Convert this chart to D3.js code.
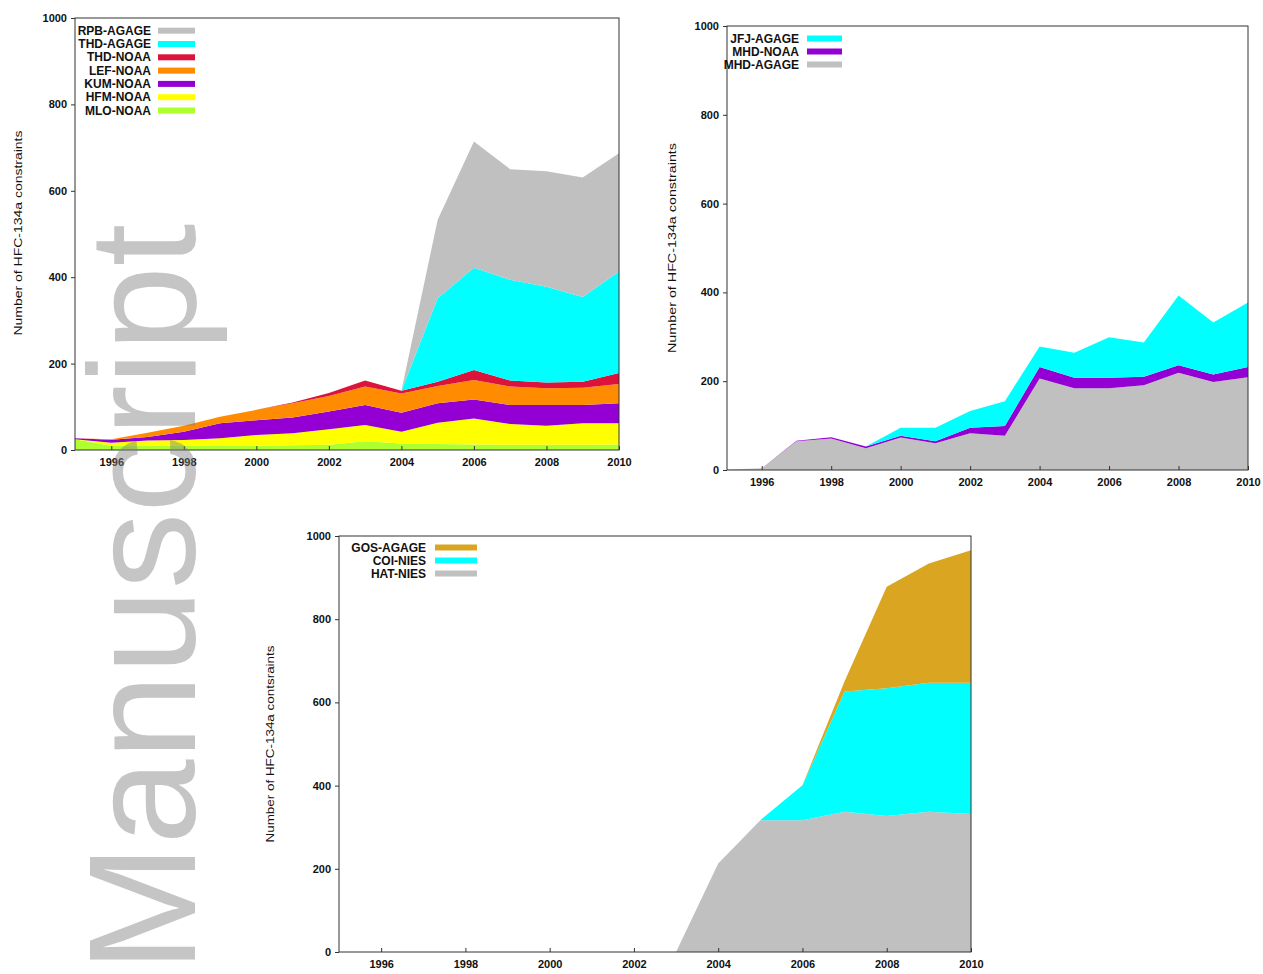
<!DOCTYPE html>
<html>
<head>
<meta charset="utf-8">
<script src="https://cdn.jsdelivr.net/npm/d3@7"></script>
<style>
  body { margin: 0; background: #fff; }
  svg { display: block; }
  text { font-family: "Liberation Sans", Arial, Helvetica, sans-serif; }
</style>
</head>
<body>
<svg id="fig" width="1263" height="974"></svg>
<script>
// ---- data -------------------------------------------------------------
const years = [1995, 1996, 1997, 1998, 1999, 2000, 2001, 2002, 2003, 2004, 2005, 2006, 2007, 2008, 2009, 2010];
const yTicks = [0, 200, 400, 600, 800, 1000];
const xTicks = [1996, 1998, 2000, 2002, 2004, 2006, 2008, 2010];

// North America / Pacific stations (stacked bottom to top)
const mloNoaa   = [25, 10, 10, 10,  9, 10, 11, 12, 20, 15, 14, 13, 12, 12, 12, 13];
const hfmNoaa   = [ 0,  7, 12, 13, 18, 25, 28, 36, 38, 27, 49, 60, 48, 44, 50, 49];
const kumNoaa   = [ 2,  7,  8, 19, 35, 34, 36, 41, 46, 44, 45, 44, 44, 48, 42, 46];
const lefNoaa   = [ 0,  1, 10, 14, 15, 24, 33, 36, 43, 45, 40, 45, 43, 39, 40, 45];
const thdNoaa   = [ 0,  0,  0,  0,  0,  0,  2,  7, 14,  6, 10, 23, 14, 13, 14, 25];
const thdAgage  = [ 0,  0,  0,  0,  0,  0,  0,  0,  0,  0, 193, 237, 233, 222, 196, 235];
const rpbAgage  = [ 0,  0,  0,  0,  0,  0,  0,  0,  0,  0, 182, 292, 256, 267, 277, 274];

// European stations
const mhdAgage  = [ 1,  4, 65, 71, 49, 73, 60, 83, 77, 206, 184, 184, 191, 219, 198, 209];
const mhdNoaa   = [ 0,  0,  1,  3,  4,  4,  5, 12, 22, 26, 24, 24, 19, 17, 17, 23];
const jfjAgage  = [ 0,  0,  0,  0,  0, 18, 30, 38, 56, 46, 56, 91, 77, 157, 117, 145];

// East Asian stations
const hatNies   = [ 0,  0,  0,  0,  0,  0,  0,  0,  0, 213, 317, 317, 337, 327, 337, 332];
const coiNies   = [ 0,  0,  0,  0,  0,  0,  0,  0,  0,   0,   0,  84, 289, 307, 310, 315];
const gosAgage  = [ 0,  0,  0,  0,  0,  0,  0,  0,  0,   0,   0,   0,  25, 244, 287, 319];

const colors = {
  grey: "#c0c0c0", cyan: "#00ffff", red: "#dc143c", orange: "#ff8c00",
  purple: "#9400d3", yellow: "#ffff00", lime: "#adff2f", gold: "#daa520"
};

// ---- drawing ----------------------------------------------------------
const svg = d3.select("#fig");
svg.append("rect").attr("width", 1263).attr("height", 974).attr("fill", "#fff");

function panel(cfg) {
  const x = d3.scaleLinear().domain([1995, 2010]).range([cfg.left, cfg.right]);
  const y = d3.scaleLinear().domain([0, 1000]).range([cfg.bottom, cfg.top]);
  const g = svg.append("g");

  // rows for the stack
  const rows = years.map((yr, i) => {
    const r = { year: yr };
    cfg.series.forEach(s => { r[s.name] = s.values[i]; });
    return r;
  });
  const stack = d3.stack().keys(cfg.series.map(s => s.name));
  const layers = stack(rows);
  const area = d3.area()
    .x(d => x(d.data.year))
    .y0(d => y(d[0]))
    .y1(d => y(d[1]));

  g.selectAll("path.layer").data(layers).join("path")
    .attr("class", "layer")
    .attr("d", area)
    .attr("fill", (d, i) => cfg.series[i].color);

  // frame
  g.append("rect")
    .attr("x", cfg.left).attr("y", cfg.top)
    .attr("width", cfg.right - cfg.left).attr("height", cfg.bottom - cfg.top)
    .attr("fill", "none").attr("stroke", "#333").attr("stroke-width", 1);

  // axes
  const ya = g.append("g").attr("transform", `translate(${cfg.left},0)`)
    .call(d3.axisLeft(y).tickValues(yTicks).tickFormat(d3.format("d")).tickSize(4).tickPadding(4));
  const xa = g.append("g").attr("transform", `translate(0,${cfg.bottom})`)
    .call(d3.axisBottom(x).tickValues(xTicks).tickFormat(d3.format("d")).tickSize(-4).tickPadding(8));
  [ya, xa].forEach(a => {
    a.select(".domain").remove();
    a.selectAll(".tick line").attr("stroke", "#333");
    a.selectAll(".tick text")
      .attr("fill", "#111")
      .style("font-size", "11px")
      .style("font-weight", "bold")
      .style("font-family", "'Liberation Sans', Arial, sans-serif");
  });

  // axis title
  g.append("text")
    .attr("transform", `translate(${cfg.titleX},${cfg.titleY}) rotate(-90)`)
    .attr("text-anchor", "middle")
    .attr("dominant-baseline", "central")
    .attr("textLength", cfg.titleLen)
    .attr("lengthAdjust", "spacingAndGlyphs")
    .style("font-size", "11px")
    .attr("fill", "#111")
    .text(cfg.title);

  // legend (top of stack listed first)
  const legendItems = cfg.series.slice().reverse();
  legendItems.forEach((s, i) => {
    const ly = cfg.legendY + i * cfg.legendStep;
    g.append("text")
      .attr("x", cfg.legendTextX).attr("y", ly)
      .attr("text-anchor", "end")
      .attr("dominant-baseline", "central")
      .style("font-size", "12px")
      .style("font-weight", "bold")
      .attr("fill", "#111")
      .text(s.label);
    g.append("rect")
      .attr("x", cfg.swatchX).attr("y", ly - 3)
      .attr("width", cfg.swatchW).attr("height", 6)
      .attr("fill", s.color);
  });
}

panel({
  left: 75, right: 619, top: 18, bottom: 450,
  titleX: 18, titleY: 233, titleLen: 205,
  title: "Number of HFC-134a constraints",
  legendY: 30.7, legendStep: 13.3, legendTextX: 151, swatchX: 158, swatchW: 37,
  series: [
    { name: "mlo", label: "MLO-NOAA",  values: mloNoaa,  color: colors.lime },
    { name: "hfm", label: "HFM-NOAA",  values: hfmNoaa,  color: colors.yellow },
    { name: "kum", label: "KUM-NOAA",  values: kumNoaa,  color: colors.purple },
    { name: "lef", label: "LEF-NOAA",  values: lefNoaa,  color: colors.orange },
    { name: "thdn", label: "THD-NOAA", values: thdNoaa,  color: colors.red },
    { name: "thda", label: "THD-AGAGE", values: thdAgage, color: colors.cyan },
    { name: "rpb", label: "RPB-AGAGE", values: rpbAgage, color: colors.grey }
  ]
});

panel({
  left: 727, right: 1248, top: 26, bottom: 470,
  titleX: 672, titleY: 248, titleLen: 210,
  title: "Number of HFC-134a constraints",
  legendY: 38.5, legendStep: 13, legendTextX: 799, swatchX: 807, swatchW: 35,
  series: [
    { name: "mhda", label: "MHD-AGAGE", values: mhdAgage, color: colors.grey },
    { name: "mhdn", label: "MHD-NOAA",  values: mhdNoaa,  color: colors.purple },
    { name: "jfj",  label: "JFJ-AGAGE", values: jfjAgage, color: colors.cyan }
  ]
});

panel({
  left: 339, right: 971, top: 536, bottom: 952,
  titleX: 270, titleY: 744, titleLen: 197,
  title: "Number of HFC-134a contsraints",
  legendY: 547.5, legendStep: 13, legendTextX: 426, swatchX: 435, swatchW: 42,
  series: [
    { name: "hat", label: "HAT-NIES",  values: hatNies,  color: colors.grey },
    { name: "coi", label: "COI-NIES",  values: coiNies,  color: colors.cyan },
    { name: "gos", label: "GOS-AGAGE", values: gosAgage, color: colors.gold }
  ]
});

// "Manuscript" stamp running up the left margin
svg.append("text")
  .attr("transform", "translate(195,972) rotate(-90)")
  .style("font-size", "153px")
  .attr("fill", "#808080")
  .attr("opacity", 0.45)
  .text("Manuscript");
</script>
</body>
</html>
